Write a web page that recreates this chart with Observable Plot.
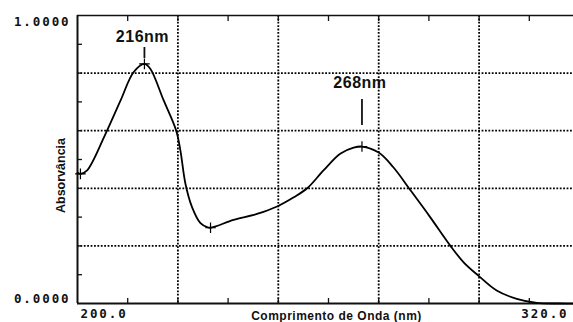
<!DOCTYPE html>
<html><head><meta charset="utf-8">
<script src="https://cdn.jsdelivr.net/npm/d3@7"></script>
<script src="https://cdn.jsdelivr.net/npm/@observablehq/plot@0.6"></script>
<style>
body{margin:0;background:#fff;}
#chart svg{display:block;}
g[font-family="DejaVu Sans Mono"] text{letter-spacing:1.9px;}
g.peaklab text{letter-spacing:0.5px;}
g.xtitle text{letter-spacing:0.5px;}
</style></head><body><div id="chart"></div>
<script>
// spectrum
const wavelengths = [200, 200.7, 202.3, 206.7, 210.3, 213.4, 216, 217.4, 220.6, 223.6, 224.6, 225.8, 227.4, 229.4, 231, 231.8, 237.3, 242.9, 247.7, 251.7, 254.9, 258.8, 262.8, 266, 268, 272, 275.5, 279.5, 284.3, 289.1, 292.3, 295.8, 300.2, 305, 309.8, 315, 320];
const absorbance  = [0.455, 0.45, 0.462, 0.589, 0.705, 0.803, 0.832, 0.815, 0.705, 0.60, 0.531, 0.416, 0.334, 0.279, 0.265, 0.263, 0.29, 0.311, 0.337, 0.369, 0.4, 0.462, 0.52, 0.541, 0.545, 0.524, 0.473, 0.395, 0.30, 0.201, 0.143, 0.097, 0.045, 0.016, 0.002, 0.0, 0.0];

const peakWavelengths = [216, 268];
const peakAbsorbance = [0.832, 0.545];
const peakLabels = ["216nm", "268nm"];

const markerWavelengths = [200.7, 216, 231.8, 268];
const markerAbsorbance = [0.45, 0.832, 0.263, 0.545];

const xGrid = [224, 248, 272, 296];
const yGrid = [0.2, 0.4, 0.6, 0.8];
const xMinorTicks = [212, 224, 236, 248, 260, 272, 284, 296, 308];
const yMinorTicks = [0.1, 0.2, 0.3, 0.4, 0.5, 0.6, 0.7, 0.8, 0.9];
const xTickValues = [200, 320];
const xTickLabels = ["200.0", "320.0"];
const yTickValues = [0, 1];
const yTickLabels = ["0.0000", "1.0000"];
const xTitle = "Comprimento de Onda (nm)";
const yTitle = "Absorvância";

const W = 573, H = 322, mT = 15, mB = 19, mL = 77, mR = -6;
const unitPerPx = 1 / (H - mT - mB);

const spectrum = wavelengths.map((w, i) => ({w, a: absorbance[i]}));
const markers = markerWavelengths.map((w, i) => ({w, a: markerAbsorbance[i]}));
const peaks = peakWavelengths.map((w, i) => ({w, a: peakAbsorbance[i], label: peakLabels[i]}));
const labelDy = [-27, -64];
const barRange = [[5.4, 16.4], [21, 47]];

const monoFont = "DejaVu Sans Mono";
const dotted = {stroke: "#000", strokeWidth: 1.8, strokeDasharray: "1.8,1.6"};

const marks = [
  Plot.ruleX(xGrid, dotted),
  Plot.ruleY(yGrid, dotted),
  Plot.axisX({anchor: "bottom", ticks: xMinorTicks, tickSize: -5, tickFormat: () => "", label: null, stroke: "#111", strokeWidth: 1.3}),
  Plot.axisX({anchor: "top", ticks: xMinorTicks, tickSize: -5, tickFormat: () => "", label: null, stroke: "#111", strokeWidth: 1.3}),
  Plot.axisY({anchor: "left", ticks: yMinorTicks, tickSize: -5, tickFormat: () => "", label: null, stroke: "#111", strokeWidth: 1.3}),
  Plot.ruleY([0], {stroke: "#111", strokeWidth: 2}),
  Plot.ruleY([1], {stroke: "#111", strokeWidth: 1.6}),
  Plot.ruleX([200], {stroke: "#111", strokeWidth: 2}),
  Plot.line(spectrum, {x: "w", y: "a", curve: "catmull-rom", stroke: "#000", strokeWidth: 1.8}),
  Plot.dot(markers, {x: "w", y: "a", symbol: "plus", r: 3.5, stroke: "#000", strokeWidth: 1.2}),
  Plot.text(yTickValues.map((v, i) => ({v, t: yTickLabels[i]})), {
    y: "v", text: "t", frameAnchor: "left", textAnchor: "end", dx: -7,
    fontFamily: monoFont, fontWeight: "bold", fontSize: 12.5, fill: "#111",
    lineAnchor: "middle"
  }),
  Plot.text(xTickValues.map((v, i) => ({v, t: xTickLabels[i]})), {
    x: "v", text: "t", frameAnchor: "bottom", dy: 14,
    textAnchor: "middle", fontFamily: monoFont, fontWeight: "bold", fontSize: 12.5, fill: "#111"
  }),
  Plot.text([xTitle], {text: d => d, frameAnchor: "bottom", textAnchor: "middle", dx: 8, dy: 16, fontFamily: "Liberation Sans", fontWeight: "bold", fontSize: 12, fill: "#111", className: "xtitle"}),
  Plot.text([yTitle], {text: d => d, frameAnchor: "left", textAnchor: "middle", rotate: -90, dx: -17, dy: 16, fontFamily: "Liberation Sans", fontWeight: "bold", fontSize: 12.5, fill: "#111"})
];

peaks.forEach((p, i) => {
  marks.push(Plot.text([p], {x: "w", y: "a", text: "label", dx: -2, dy: labelDy[i], fontFamily: "Liberation Sans", fontWeight: "bold", fontSize: 16, fill: "#111", className: "peaklab"}));
  marks.push(Plot.ruleX([p], {x: "w", y1: d => d.a + barRange[i][0] * unitPerPx, y2: d => d.a + barRange[i][1] * unitPerPx, stroke: "#111", strokeWidth: 1.8}));
});

const chart = Plot.plot({
  width: W, height: H,
  marginTop: mT, marginBottom: mB, marginLeft: mL, marginRight: mR,
  x: {domain: [200, 320]},
  y: {domain: [0, 1]},
  style: {background: "#fff", color: "#111", fontFamily: "Liberation Sans"},
  marks
});
document.getElementById("chart").appendChild(chart);

// fine placement of the few tick labels
d3.select(chart).selectAll("text").each(function() {
  const s = d3.select(this);
  const t = s.text();
  if (t === xTickLabels[0]) s.attr("text-anchor", "start").attr("dx", 3);
  if (t === xTickLabels[1]) s.attr("text-anchor", "end").attr("dx", -11);
  if (t === yTickLabels[1]) s.attr("transform", (s.attr("transform") || "") + " translate(0,6)");
  if (t === yTickLabels[0]) s.attr("transform", (s.attr("transform") || "") + " translate(0,-5)");
});
</script></body></html>
